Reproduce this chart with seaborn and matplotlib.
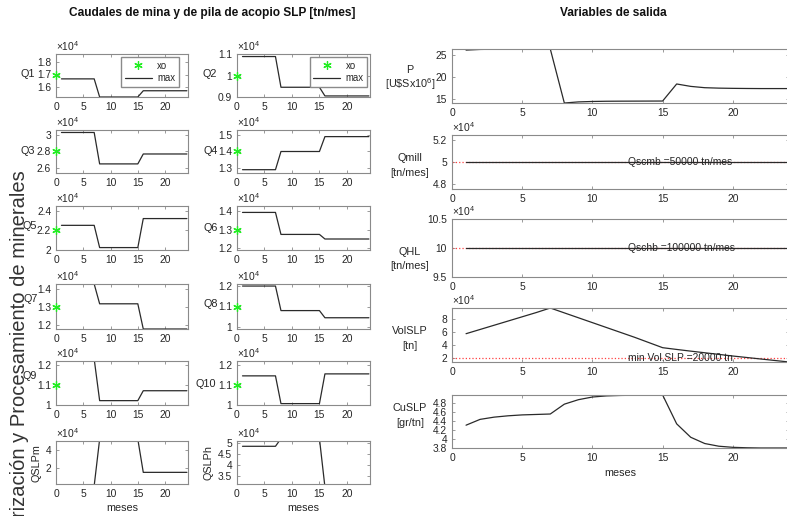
import matplotlib
matplotlib.use("Agg")
import matplotlib.pyplot as plt
from matplotlib.ticker import FuncFormatter
import seaborn as sns

# ---------------- data ----------------
meses = [1, 2, 3, 4, 5, 6, 7, 8, 9, 10, 11, 12, 13, 14, 15, 16, 17, 18, 19, 20, 21, 22, 23, 24]

Q1 = [16650, 16650, 16650, 16650, 16650, 16650, 16650, 15200, 15200, 15200, 15200, 15200, 15200, 15200, 15200,
      15700, 15700, 15700, 15700, 15700, 15700, 15700, 15700, 15700]
Q2 = [10900, 10900, 10900, 10900, 10900, 10900, 10900, 9450, 9450, 9450, 9450, 9450, 9450, 9450, 9450,
      9040, 9040, 9040, 9040, 9040, 9040, 9040, 9040, 9040]
Q3 = [30300, 30300, 30300, 30300, 30300, 30300, 30300, 26500, 26500, 26500, 26500, 26500, 26500, 26500, 26500,
      27700, 27700, 27700, 27700, 27700, 27700, 27700, 27700, 27700]
Q4 = [12900, 12900, 12900, 12900, 12900, 12900, 12900, 14000, 14000, 14000, 14000, 14000, 14000, 14000, 14000,
      14900, 14900, 14900, 14900, 14900, 14900, 14900, 14900, 14900]
Q5 = [22500, 22500, 22500, 22500, 22500, 22500, 22500, 20200, 20200, 20200, 20200, 20200, 20200, 20200, 20200,
      23200, 23200, 23200, 23200, 23200, 23200, 23200, 23200, 23200]
Q6 = [13950, 13950, 13950, 13950, 13950, 13950, 13950, 12750, 12750, 12750, 12750, 12750, 12750, 12750, 12750,
      12500, 12500, 12500, 12500, 12500, 12500, 12500, 12500, 12500]
Q7 = [14300, 14300, 14300, 14300, 14300, 14300, 14300, 13200, 13200, 13200, 13200, 13200, 13200, 13200, 13200,
      11800, 11800, 11800, 11800, 11800, 11800, 11800, 11800, 11800]
Q8 = [12000, 12000, 12000, 12000, 12000, 12000, 12000, 10800, 10800, 10800, 10800, 10800, 10800, 10800, 10800,
      10450, 10450, 10450, 10450, 10450, 10450, 10450, 10450, 10450]
Q9 = [12300, 12300, 12300, 12300, 12300, 12300, 12300, 10200, 10200, 10200, 10200, 10200, 10200, 10200, 10200,
      10700, 10700, 10700, 10700, 10700, 10700, 10700, 10700, 10700]
Q10 = [11450, 11450, 11450, 11450, 11450, 11450, 11450, 10050, 10050, 10050, 10050, 10050, 10050, 10050, 10050,
       11550, 11550, 11550, 11550, 11550, 11550, 11550, 11550, 11550]
QSLPm = [0, 0, 0, 0, 0, 0, 0, 52000, 52000, 52000, 52000, 52000, 52000, 52000, 52000,
         15000, 15000, 15000, 15000, 15000, 15000, 15000, 15000, 15000]
QSLPh = [48500, 48500, 48500, 48500, 48500, 48500, 48500, 52000, 52000, 52000, 52000, 52000, 52000, 52000, 52000,
         30000, 30000, 30000, 30000, 30000, 30000, 30000, 30000, 30000]
xo = [17000, 10000, 28000, 14000, 22000, 13000, 13000, 11000, 11000, 11000]

P = [26.2, 26.35, 26.4, 26.42, 26.43, 26.44, 26.45, 14.1, 14.35, 14.45, 14.5, 14.52, 14.53, 14.54, 14.55,
     18.45, 17.9, 17.6, 17.5, 17.45, 17.42, 17.4, 17.4, 17.4]
Qmill = [50000, 50000, 50000, 50000, 50000, 50000, 50000, 50000, 50000, 50000, 50000, 50000, 50000, 50000, 50000,
         50000, 50000, 50000, 50000, 50000, 50000, 50000, 50000, 50000]
QHL = [100000, 100000, 100000, 100000, 100000, 100000, 100000, 100000, 100000, 100000, 100000, 100000, 100000,
       100000, 100000, 100000, 100000, 100000, 100000, 100000, 100000, 100000, 100000, 100000]
VolSLP = [57000, 63500, 70000, 76500, 83000, 89500, 96500, 89000, 81500, 74000, 66500, 59000, 51500, 43500, 35500,
          32800, 30200, 27700, 25200, 22700, 20400, 18100, 15800, 13500]
CuSLP = [4.30, 4.43, 4.48, 4.51, 4.53, 4.54, 4.55, 4.77, 4.87, 4.93, 4.955, 4.965, 4.97, 4.975, 4.975,
         4.33, 4.03, 3.89, 3.83, 3.805, 3.795, 3.79, 3.79, 3.79]
Qscmb = 50000
Qschb = 100000
minVolSLP = 20000

left_names = ["Q1", "Q2", "Q3", "Q4", "Q5", "Q6", "Q7", "Q8", "Q9", "Q10", "QSLPm", "QSLPh"]
left_series = [Q1, Q2, Q3, Q4, Q5, Q6, Q7, Q8, Q9, Q10, QSLPm, QSLPh]
left_yticks = [[1.6e4, 1.7e4, 1.8e4], [0.9e4, 1.0e4, 1.1e4], [2.6e4, 2.8e4, 3.0e4], [1.3e4, 1.4e4, 1.5e4],
               [2.0e4, 2.2e4, 2.4e4], [1.2e4, 1.3e4, 1.4e4], [1.2e4, 1.3e4, 1.4e4], [1.0e4, 1.1e4, 1.2e4],
               [1.0e4, 1.1e4, 1.2e4], [1.0e4, 1.1e4, 1.2e4], [2e4, 4e4], [3.5e4, 4.0e4, 4.5e4, 5.0e4]]
left_ylims = [(15200, 18640), (8990, 11020), (25400, 30600), (12700, 15300), (19950, 24500), (11900, 14300),
              (11800, 14300), (9900, 12100), (9980, 12200), (9980, 12200), (2000, 50000), (31400, 50900)]
xticks = [0, 5, 10, 15, 20]

# ---------------- style ----------------
sns.set_theme(style="white")
plt.rcParams["font.family"] = ["Liberation Sans", "DejaVu Sans"]
plt.rcParams["mathtext.fontset"] = "custom"
plt.rcParams["mathtext.rm"] = "Liberation Sans"
plt.rcParams["mathtext.it"] = "Liberation Sans:italic"
plt.rcParams["mathtext.bf"] = "Liberation Sans:bold"

W, H = 787, 516
TXT = "#262626"
SP = "#8a8a8a"
LC = "#2a2a2a"
FS = 7.4

fig = plt.figure(figsize=(W / 100, H / 100), dpi=100)


def px_ax(x0, y0, x1, y1):
    return fig.add_axes([x0 / W, 1 - y1 / H, (x1 - x0) / W, (y1 - y0) / H])


def ftext(x, y, s, **kw):
    kw.setdefault("fontsize", FS + 0.4)
    kw.setdefault("color", TXT)
    kw.setdefault("ha", "center")
    kw.setdefault("va", "center")
    fig.text(x / W, 1 - y / H, s, **kw)


def style(ax, xlim, ylim, yticks, scale, sci):
    ax.set_xlim(*xlim)
    ax.set_ylim(*ylim)
    ax.set_xticks(xticks)
    ax.set_yticks(yticks)
    ax.xaxis.set_major_formatter(FuncFormatter(lambda v, p: f"{v:g}"))
    ax.yaxis.set_major_formatter(FuncFormatter(lambda v, p: f"{round(v / scale, 4):g}"))
    ax.tick_params(direction="in", length=2.5, width=0.6, color=SP, labelsize=FS, labelcolor=TXT,
                   top=True, right=True, bottom=True, left=True, pad=3.5)
    for s in ax.spines.values():
        s.set_visible(True)
        s.set_color(SP)
        s.set_linewidth(0.8)
    ax.set_xlabel("")
    ax.set_ylabel("")
    ax.set_facecolor("white")
    if sci:
        ax.text(0.0, 1.015, r"$\times$10$^{4}$", transform=ax.transAxes, ha="left", va="bottom",
                fontsize=FS, color=TXT)


# ---------------- left block ----------------
tops = [54, 130, 206, 284, 361, 441]
bots = [97, 173, 250, 329, 405, 484]
cols = [(56, 188), (237, 370)]
label_pos = [(28, 74), (210, 74), (28, 151), (211, 151), (30, 226), (211, 228),
             (31, 299), (211, 304), (30, 376), (206, 384), (37, 463), (209, 463)]

for i, (name, ser) in enumerate(zip(left_names, left_series)):
    r, c = divmod(i, 2)
    ax = px_ax(cols[c][0], tops[r], cols[c][1], bots[r])
    style(ax, (0, 24.2), left_ylims[i], left_yticks[i], 1e4, True)
    if i < 10:
        ax.plot([0], [xo[i]], marker=(6, 2, 0), ms=6, mew=0.9, color="#22ee22", ls="none",
                clip_on=False, zorder=6, label="xo")
    sns.lineplot(x=meses, y=ser, ax=ax, color=LC, lw=0.9, label="max" if i < 2 else None, legend=False)
    if i < 2:
        anchor = (0.93, 0.92) if i == 0 else (0.98, 0.92)
        ax.legend(loc="upper right", bbox_to_anchor=anchor, fontsize=FS - 0.5, frameon=True, fancybox=False,
                  edgecolor=SP, framealpha=1, borderpad=0.35, handlelength=2.8, labelspacing=0.25,
                  handletextpad=0.6, borderaxespad=0.0)
    lx, ly = label_pos[i]
    if i >= 10:
        ftext(lx, ly, name, rotation=90)
        ax.set_xlabel("meses", fontsize=FS + 0.4, color=TXT, labelpad=3)
    else:
        ftext(lx, ly, name)

# ---------------- right block ----------------
rx0, rx1 = 452, 789
r_rows = [(49, 103), (135, 189), (219, 277), (308, 362), (395, 448)]

axP = px_ax(rx0, r_rows[0][0], rx1, r_rows[0][1])
sns.lineplot(x=meses, y=P, ax=axP, color=LC, lw=0.9, legend=False)
style(axP, (0, 24), (min(P), max(P)), [15, 20, 25], 1, False)

axM = px_ax(rx0, r_rows[1][0], rx1, r_rows[1][1])
axM.plot([0, 24], [Qscmb, Qscmb], color="#ff4040", ls=":", lw=0.9)
sns.lineplot(x=meses, y=Qmill, ax=axM, color=LC, lw=0.9, legend=False)
style(axM, (0, 24), (47500, 52500), [4.8e4, 5.0e4, 5.2e4], 1e4, True)
axM.text(12.5, Qscmb, "Qscmb =50000 tn/mes", fontsize=FS, color=TXT, ha="left", va="center")

axH = px_ax(rx0, r_rows[2][0], rx1, r_rows[2][1])
axH.plot([0, 24], [Qschb, Qschb], color="#ff4040", ls=":", lw=0.9)
sns.lineplot(x=meses, y=QHL, ax=axH, color=LC, lw=0.9, legend=False)
style(axH, (0, 24), (95000, 105000), [9.5e4, 10e4, 10.5e4], 1e4, True)
axH.text(12.5, Qschb, "Qschb =100000 tn/mes", fontsize=FS, color=TXT, ha="left", va="center")

axV = px_ax(rx0, r_rows[3][0], rx1, r_rows[3][1])
axV.plot([0, 24], [minVolSLP, minVolSLP], color="#ff4040", ls=":", lw=0.9)
sns.lineplot(x=meses, y=VolSLP, ax=axV, color=LC, lw=0.9, legend=False)
style(axV, (0, 24), (min(VolSLP), max(VolSLP)), [2e4, 4e4, 6e4, 8e4], 1e4, True)
axV.text(12.5, minVolSLP, "min Vol.SLP =20000 tn", fontsize=FS, color=TXT, ha="left", va="center")

axC = px_ax(rx0, r_rows[4][0], rx1, r_rows[4][1])
sns.lineplot(x=meses, y=CuSLP, ax=axC, color=LC, lw=0.9, legend=False)
style(axC, (0, 24), (min(CuSLP), max(CuSLP)), [3.8, 4.0, 4.2, 4.4, 4.6, 4.8], 1, False)
axC.set_xlabel("meses", fontsize=FS + 0.4, color=TXT, labelpad=4)

ftext(410, 70, "P")
ftext(410, 84, r"[U\$Sx10$^{6}$]")
ftext(410, 158, "Qmill")
ftext(410, 173, "[tn/mes]")
ftext(410, 252, "QHL")
ftext(410, 266, "[tn/mes]")
ftext(410, 331, "VolSLP")
ftext(410, 346, "[tn]")
ftext(410, 408, "CuSLP")
ftext(410, 423, "[gr/tn]")

# ---------------- titles ----------------
ftext(212, 13, "Caudales de mina y de pila de acopio SLP [tn/mes]", fontsize=8.6, fontweight="bold", color="#111111")
ftext(613, 13, "Variables de salida", fontsize=8.6, fontweight="bold", color="#111111")

fig.text(25 / W, 1 - 170 / H, "Valorización y Procesamiento de minerales", rotation=90,
         rotation_mode="anchor", ha="right", va="baseline", fontsize=14.5, color="#333333")

fig.savefig("out.png", dpi=100, facecolor="white")
